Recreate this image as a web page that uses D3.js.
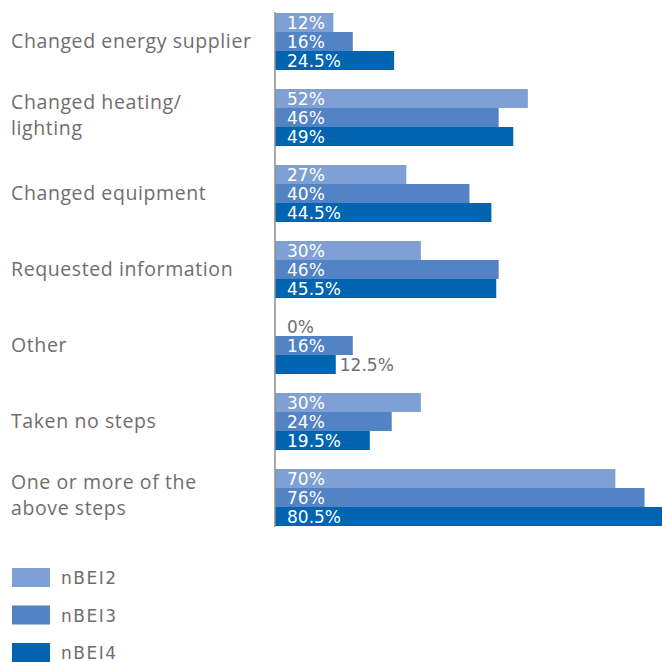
<!DOCTYPE html>
<html>
<head>
<meta charset="utf-8">
<script src="https://cdn.jsdelivr.net/npm/d3@7"></script>
<style>
  body { margin: 0; background: #fff; }
</style>
</head>
<body>
<div id="chart"></div>
<script>
// categories, each label split into its lines
const categories = [
  ["Changed energy supplier"],
  ["Changed heating/", "lighting"],
  ["Changed equipment"],
  ["Requested information"],
  ["Other"],
  ["Taken no steps"],
  ["One or more of the", "above steps"]
];
const seriesNames = ["nBEI2", "nBEI3", "nBEI4"];
const nBEI2 = [12, 52, 27, 30, 0, 30, 70];
const nBEI3 = [16, 46, 40, 46, 16, 24, 76];
const nBEI4 = [24.5, 49, 44.5, 45.5, 12.5, 19.5, 80.5];
const colors = ["#7fa0d4", "#5183c5", "#0064b1"];

const width = 662, height = 662;
const axisX = 275;

const svg = d3.select("#chart").append("svg")
  .attr("width", width)
  .attr("height", height);

// value scale; the longest bar runs off the right edge
const x = d3.scaleLinear().domain([0, 80]).range([axisX, 664]);

const y0 = d3.scaleBand()
  .domain(d3.range(categories.length))
  .range([13, 13 + 76 * categories.length - 19])
  .paddingInner(19 / 76)
  .paddingOuter(0);

const y1 = d3.scaleBand()
  .domain(d3.range(seriesNames.length))
  .range([0, y0.bandwidth()]);

const data = categories.map((c, i) => ({
  label: c,
  values: [nBEI2[i], nBEI3[i], nBEI4[i]]
}));

const groups = svg.selectAll("g.group")
  .data(data)
  .enter().append("g")
  .attr("class", "group")
  .attr("transform", (d, i) => `translate(0,${y0(i)})`);

groups.selectAll("rect")
  .data(d => d.values)
  .enter().append("rect")
  .attr("x", x(0))
  .attr("y", (d, j) => y1(j))
  .attr("width", d => x(d) - x(0))
  .attr("height", y1.bandwidth())
  .attr("fill", (d, j) => colors[j]);

// value labels: inside the bar in white, after the bar in grey if it doesn't fit
groups.selectAll("text.val")
  .data(d => d.values)
  .enter().append("text")
  .attr("class", "val")
  .attr("x", x(0) + 12)
  .attr("y", (d, j) => y1(j) + y1.bandwidth() - 3)
  .style("font-family", "'DejaVu Sans', sans-serif")
  .style("font-size", "17px")
  .text(d => d + "%")
  .each(function (d) {
    const w = this.getComputedTextLength();
    const barW = x(d) - x(0);
    const el = d3.select(this);
    if (w + 14 <= barW) {
      el.attr("fill", "#fff");
    } else {
      el.attr("fill", "#6e6e6e");
      if (d > 0) el.attr("x", x(d) + 4);
    }
  });

// category labels
groups.append("text")
  .attr("class", "cat")
  .attr("x", 11)
  .attr("fill", "#6e6e6e")
  .style("font-family", "'Open Sans', sans-serif")
  .style("font-size", "19.5px")
  .style("letter-spacing", "0.6px")
  .each(function (d) {
    const n = d.label.length;
    const mid = y0.bandwidth() / 2;
    d3.select(this).selectAll("tspan")
      .data(d.label)
      .enter().append("tspan")
      .attr("x", 11)
      .attr("y", (t, k) => mid + 6 + (k - (n - 1) / 2) * 26 - (n - 1) * 2)
      .text(t => t);
  });

// axis line
svg.append("line")
  .attr("x1", axisX).attr("x2", axisX)
  .attr("y1", 12).attr("y2", y0(categories.length - 1) + y0.bandwidth() + 1)
  .attr("stroke", "#8c8c8c")
  .attr("stroke-width", 1.5);

// legend
const legend = svg.selectAll("g.legend")
  .data(seriesNames)
  .enter().append("g")
  .attr("class", "legend")
  .attr("transform", (d, i) => `translate(12,${568 + i * 37.5})`);

legend.append("rect")
  .attr("width", 38)
  .attr("height", 19)
  .attr("fill", (d, i) => colors[i]);

legend.append("text")
  .attr("x", 49)
  .attr("y", 16)
  .attr("fill", "#6e6e6e")
  .style("font-family", "'DejaVu Sans', sans-serif")
  .style("font-size", "17px")
  .style("letter-spacing", "1.5px")
  .text(d => d);
</script>
</body>
</html>
